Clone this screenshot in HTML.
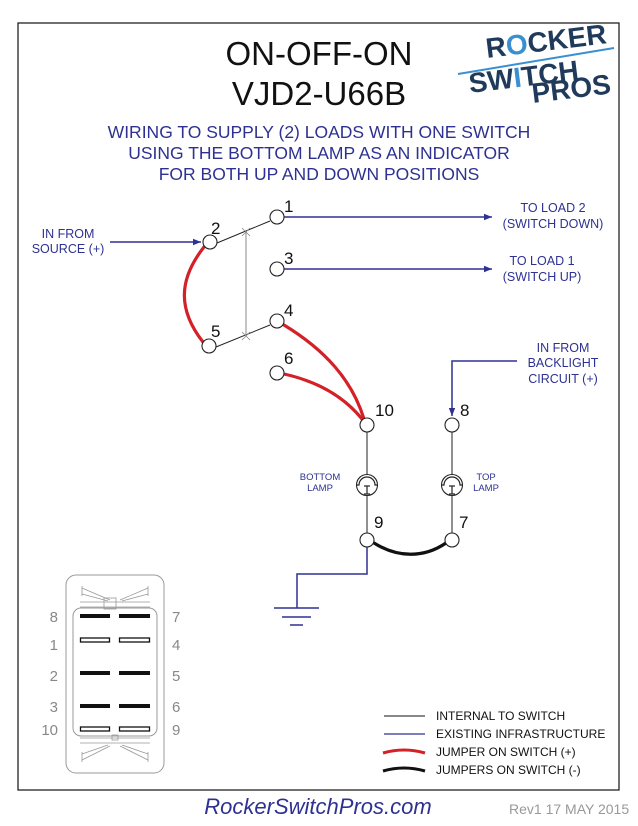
<!DOCTYPE html>
<html><head><meta charset="utf-8"><style>
html,body{margin:0;padding:0;background:#fff;}
svg{display:block;font-family:"Liberation Sans",Arial,sans-serif;}
</style></head><body>
<svg width="638" height="826" viewBox="0 0 638 826" xmlns="http://www.w3.org/2000/svg">
<defs>
<marker id="ar" viewBox="0 0 10 10" refX="10" refY="5" markerWidth="8" markerHeight="8" markerUnits="userSpaceOnUse" orient="auto"><path d="M0,1 L10,5 L0,9 Z" fill="#2e3192"/></marker>
</defs>
<rect x="18" y="23" width="601" height="767" fill="none" stroke="#222" stroke-width="1.3"/>

<!-- title -->
<text x="319" y="65" font-size="33" text-anchor="middle" fill="#111">ON-OFF-ON</text>
<text x="319" y="105" font-size="33" text-anchor="middle" fill="#111">VJD2-U66B</text>
<g fill="#2e3192" font-size="17.5" text-anchor="middle">
<text x="319" y="138">WIRING TO SUPPLY (2) LOADS WITH ONE SWITCH</text>
<text x="319" y="159">USING THE BOTTOM LAMP AS AN INDICATOR</text>
<text x="319" y="180">FOR BOTH UP AND DOWN POSITIONS</text>
</g>

<!-- logo -->
<g font-weight="bold" fill="#1f3a5a" font-size="28">
<text x="487" y="58" transform="rotate(-7 487 58)"><tspan>R</tspan><tspan fill="#3a8fd0">O</tspan><tspan>CKER</tspan></text>
<text x="470" y="93" transform="rotate(-7 470 93)"><tspan>SW</tspan><tspan fill="#3a8fd0">I</tspan><tspan>TCH</tspan></text>
<text x="533" y="103" transform="rotate(-7 533 103)">PROS</text>
</g>
<line x1="458" y1="74" x2="614" y2="48" stroke="#3a8fd0" stroke-width="2"/>

<!-- blue infrastructure -->
<g stroke="#2e3192" stroke-width="1.5" fill="none">
<line x1="110" y1="242" x2="201" y2="242" marker-end="url(#ar)"/>
<line x1="284" y1="217" x2="492" y2="217" marker-end="url(#ar)"/>
<line x1="284" y1="269" x2="492" y2="269" marker-end="url(#ar)"/>
<polyline points="517,361 452,361 452,416" marker-end="url(#ar)"/>
<polyline points="367,547 367,574 297,574 297,608"/>
</g>
<g stroke="#2e3192" stroke-width="1.5">
<line x1="274" y1="608" x2="319" y2="608"/>
<line x1="282" y1="617" x2="311" y2="617"/>
<line x1="290" y1="625" x2="303" y2="625"/>
</g>

<!-- internal -->
<g stroke="#222" stroke-width="1" fill="none">
<line x1="217" y1="243" x2="270" y2="221"/>
<line x1="216" y1="347" x2="270" y2="325"/>
<line x1="367" y1="432" x2="367" y2="475"/>
<line x1="367" y1="495" x2="367" y2="533"/>
<line x1="452" y1="432" x2="452" y2="475"/>
<line x1="452" y1="495" x2="452" y2="533"/>
</g>
<line x1="246" y1="232" x2="246" y2="336" stroke="#888" stroke-width="1"/>
<g stroke="#888" stroke-width="0.8">
<line x1="242" y1="228" x2="250" y2="236"/><line x1="250" y1="228" x2="242" y2="236"/>
<line x1="242" y1="332" x2="250" y2="340"/><line x1="250" y1="332" x2="242" y2="340"/>
</g>

<!-- red jumpers -->
<g stroke="#d42027" stroke-width="3.2" fill="none" stroke-linecap="round">
<path d="M204,247 C178,280 178,310 203,342"/>
<path d="M284,325 C325,350 352,380 364,419"/>
<path d="M284,374 C320,382 345,398 362,419"/>
</g>
<!-- black jumper -->
<path d="M374,543 C398,558 424,558 446,543" stroke="#111" stroke-width="3.2" fill="none" stroke-linecap="round"/>

<!-- terminals -->
<g fill="#fff" stroke="#222" stroke-width="1.1">
<circle cx="210" cy="242" r="7"/>
<circle cx="277" cy="217" r="7"/>
<circle cx="277" cy="269" r="7"/>
<circle cx="277" cy="321" r="7"/>
<circle cx="209" cy="346" r="7"/>
<circle cx="277" cy="373" r="7"/>
<circle cx="367" cy="425" r="7"/>
<circle cx="452" cy="425" r="7"/>
<circle cx="367" cy="540" r="7"/>
<circle cx="452" cy="540" r="7"/>
</g>
<g font-size="17" fill="#111">
<text x="211" y="234">2</text>
<text x="284" y="212">1</text>
<text x="284" y="264">3</text>
<text x="284" y="316">4</text>
<text x="211" y="337">5</text>
<text x="284" y="364">6</text>
<text x="375" y="416">10</text>
<text x="460" y="416">8</text>
<text x="374" y="528">9</text>
<text x="459" y="528">7</text>
</g>

<!-- lamps -->
<g stroke="#222" stroke-width="1.1" fill="#fff">
<circle cx="367" cy="485" r="10.5"/>
<circle cx="452" cy="485" r="10.5"/>
</g>
<g stroke="#222" stroke-width="1.2" fill="none">
<path d="M356.5,485 L359,485 A8,8 0 0 1 375,485 L377.5,485"/>
<path d="M441.5,485 L444,485 A8,8 0 0 1 460,485 L462.5,485"/>
<line x1="367" y1="486" x2="367" y2="494"/><line x1="364" y1="486" x2="370" y2="486"/><line x1="364" y1="494" x2="370" y2="494"/>
<line x1="452" y1="486" x2="452" y2="494"/><line x1="449" y1="486" x2="455" y2="486"/><line x1="449" y1="494" x2="455" y2="494"/>
</g>
<g fill="#2e3192" font-size="9.5" text-anchor="middle">
<text x="320" y="480">BOTTOM</text><text x="320" y="491">LAMP</text>
<text x="486" y="480">TOP</text><text x="486" y="491">LAMP</text>
</g>

<!-- side labels -->
<g fill="#2e3192" font-size="12.5" text-anchor="middle">
<text x="68" y="238">IN FROM</text><text x="68" y="253">SOURCE (+)</text>
<text x="553" y="212">TO LOAD 2</text><text x="553" y="228">(SWITCH DOWN)</text>
<text x="542" y="265">TO LOAD 1</text><text x="542" y="281">(SWITCH UP)</text>
<text x="563" y="352">IN FROM</text><text x="563" y="367">BACKLIGHT</text><text x="563" y="383">CIRCUIT (+)</text>
</g>

<!-- switch diagram -->
<rect x="66" y="575" width="98" height="198" rx="10" fill="none" stroke="#999" stroke-width="1"/>
<rect x="73" y="608" width="84" height="128" rx="8" fill="none" stroke="#999" stroke-width="1"/>
<g stroke="#999" stroke-width="0.8" fill="none">
<line x1="80" y1="602" x2="150" y2="602"/><line x1="80" y1="607" x2="150" y2="607"/>
<rect x="104" y="598" width="12" height="11"/>
<path d="M82,588 L110,600 M82,594 L108,601 M148,588 L120,600 M148,594 L122,601"/>
<line x1="82" y1="586" x2="82" y2="596"/><line x1="148" y1="586" x2="148" y2="596"/>
<line x1="80" y1="738" x2="150" y2="738"/><line x1="80" y1="743" x2="150" y2="743"/>
<rect x="112" y="735" width="6" height="5"/>
<path d="M82,760 L110,746 M82,754 L108,745 M148,760 L120,746 M148,754 L122,745"/>
<line x1="82" y1="752" x2="82" y2="762"/><line x1="148" y1="752" x2="148" y2="762"/>
</g>
<g fill="#111">
<rect x="80" y="614" width="30" height="4"/><rect x="119" y="614" width="31" height="4"/>
<rect x="80" y="671" width="30" height="4"/><rect x="119" y="671" width="31" height="4"/>
<rect x="80" y="704" width="30" height="4"/><rect x="119" y="704" width="31" height="4"/>
</g>
<g fill="#fff" stroke="#111" stroke-width="1.3">
<rect x="80.5" y="638" width="29" height="4"/><rect x="119.5" y="638" width="30" height="4"/>
<rect x="80.5" y="727" width="29" height="4"/><rect x="119.5" y="727" width="30" height="4"/>
</g>
<g fill="#888" font-size="15">
<text x="58" y="622" text-anchor="end">8</text><text x="172" y="622">7</text>
<text x="58" y="650" text-anchor="end">1</text><text x="172" y="650">4</text>
<text x="58" y="681" text-anchor="end">2</text><text x="172" y="681">5</text>
<text x="58" y="712" text-anchor="end">3</text><text x="172" y="712">6</text>
<text x="58" y="735" text-anchor="end">10</text><text x="172" y="735">9</text>
</g>

<!-- legend -->
<line x1="384" y1="716" x2="425" y2="716" stroke="#111" stroke-width="1"/>
<line x1="384" y1="734" x2="425" y2="734" stroke="#2e3192" stroke-width="1.2"/>
<path d="M383,753 Q404,747 425,753" stroke="#d42027" stroke-width="3" fill="none"/>
<path d="M383,771 Q404,765 425,771" stroke="#111" stroke-width="3" fill="none"/>
<g font-size="12" fill="#111">
<text x="436" y="720">INTERNAL TO SWITCH</text>
<text x="436" y="738">EXISTING INFRASTRUCTURE</text>
<text x="436" y="756">JUMPER ON SWITCH (+)</text>
<text x="436" y="774">JUMPERS ON SWITCH (-)</text>
</g>

<!-- footer -->
<text x="318" y="814" font-size="22" font-style="italic" fill="#2e3192" text-anchor="middle">RockerSwitchPros.com</text>
<text x="509" y="814" font-size="14" fill="#999">Rev1 17 MAY 2015</text>
</svg>
</body></html>
